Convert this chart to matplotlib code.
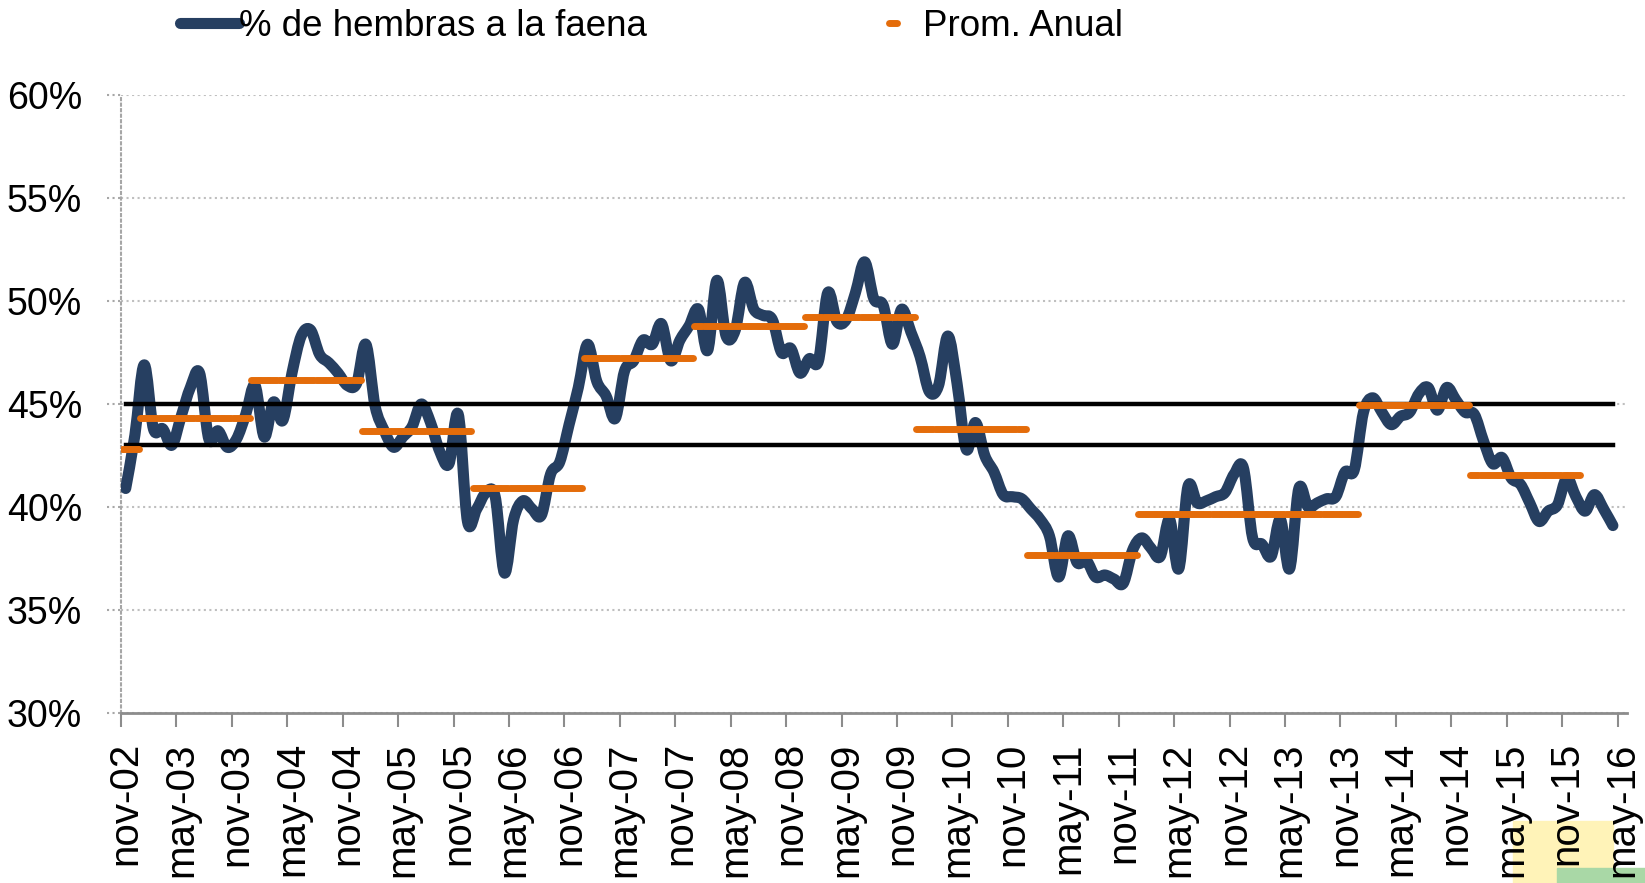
import matplotlib.pyplot as plt
import numpy as np
from matplotlib.markers import MarkerStyle
from matplotlib.patches import Rectangle, PathPatch
from matplotlib.path import Path
from matplotlib.lines import Line2D

# % de hembras en la faena, mensual desde nov-02
hembras = [40.9, 43.5, 46.9, 43.8, 43.8, 43.0, 44.4, 45.8, 46.5, 43.3,
           43.7, 42.9, 43.3, 44.5, 45.9, 43.4, 45.1, 44.2, 46.5, 48.3,
           48.6, 47.4, 47.0, 46.5, 45.9, 46.0, 47.9, 44.9, 43.7, 42.9,
           43.4, 43.9, 45.0, 44.1, 42.7, 42.1, 44.5, 39.3, 39.9, 40.7,
           40.5, 36.8, 39.4, 40.3, 39.9, 39.6, 41.6, 42.2, 44.0, 45.8,
           47.9, 46.1, 45.4, 44.3, 46.6, 47.1, 48.1, 47.9, 48.9, 47.1,
           48.1, 48.8, 49.6, 47.6, 51.0, 48.3, 48.6, 50.9, 49.6, 49.3,
           49.1, 47.5, 47.7, 46.5, 47.2, 47.1, 50.4, 49.0, 49.1, 50.4,
           51.9, 50.1, 49.8, 47.9, 49.6, 48.5, 47.3, 45.6, 45.9, 48.3,
           46.0, 42.8, 44.1, 42.5, 41.7, 40.6, 40.5, 40.4, 39.9, 39.4,
           38.6, 36.6, 38.6, 37.3, 37.4, 36.6, 36.7, 36.5, 36.3, 37.9,
           38.5, 38.0, 37.6, 39.4, 37.0, 41.0, 40.2, 40.3, 40.5, 40.7,
           41.6, 41.9, 38.5, 38.2, 37.6, 39.4, 37.0, 40.9, 40.0, 40.2,
           40.4, 40.5, 41.7, 41.8, 44.6, 45.3, 44.6, 44.0, 44.4, 44.6,
           45.5, 45.8, 44.7, 45.8, 45.2, 44.6, 44.5, 43.2, 42.1, 42.4,
           41.4, 41.1, 40.2, 39.3, 39.8, 40.1, 41.4, 40.5, 39.8, 40.6,
           39.9, 39.1]

anios = list(range(2002, 2016))
prom_anual = [42.8, 44.3, 46.15, 43.67, 40.9, 47.25, 48.8, 49.2, 43.8,
              37.67, 39.66, 39.66, 44.95, 41.55]

ref_alta = 45
ref_baja = 43

xlabels = ["nov-02", "may-03", "nov-03", "may-04", "nov-04", "may-05",
           "nov-05", "may-06", "nov-06", "may-07", "nov-07", "may-08",
           "nov-08", "may-09", "nov-09", "may-10", "nov-10", "may-11",
           "nov-11", "may-12", "nov-12", "may-13", "nov-13", "may-14",
           "nov-14", "may-15", "nov-15", "may-16"]

n_cat = 163  # categorias en el eje: nov-02 .. may-16

mes = np.arange(len(hembras))
prom = np.full(len(hembras), np.nan)
for anio, v in zip(anios, prom_anual):
    ini = max(0, 2 + 12 * (anio - 2003))
    fin = 2 + 12 * (anio - 2002)
    prom[ini:fin] = v

plt.rcParams['font.family'] = ['Liberation Sans', 'DejaVu Sans']

azul = '#263F61'
naranja = '#E46C0A'
gris = '#8C8C8C'
lw_azul = 8


def linea_suave(x, y):
    # curva suavizada tipo Excel (Bezier por los puntos)
    p = np.column_stack([x, y]).astype(float)
    ext = np.vstack([p[0], p, p[-1]])
    verts = [p[0]]
    codes = [Path.MOVETO]
    for i in range(len(p) - 1):
        p0, p1, p2, p3 = ext[i], ext[i + 1], ext[i + 2], ext[i + 3]
        verts += [p1 + (p2 - p0) / 6, p2 - (p3 - p1) / 6, p2]
        codes += [Path.CURVE4] * 3
    return Path(verts, codes)


fig = plt.figure(figsize=(16.45, 8.83), dpi=100)
ax = fig.add_axes([0.0736, 0.1925, 0.9153, 0.6999])

ax.add_patch(PathPatch(linea_suave(mes, hembras), facecolor='none',
                       edgecolor=azul, lw=lw_azul, joinstyle='round',
                       capstyle='round', zorder=3))
ax.plot(mes, np.full(len(mes), ref_alta), color='k', lw=3.2,
        solid_capstyle='projecting', zorder=4)
ax.plot(mes, np.full(len(mes), ref_baja), color='k', lw=3.2,
        solid_capstyle='projecting', zorder=4)
l2, = ax.plot(mes, prom, ls='none', marker=MarkerStyle('_', capstyle='round'),
              ms=6, mew=5, color=naranja, zorder=5, label='Prom. Anual')
l1 = Line2D([], [], color=azul, lw=lw_azul, solid_capstyle='round',
            label='% de hembras a la faena')

ax.set_xlim(-0.5, n_cat - 0.5)
ax.set_ylim(30, 60)

ax.set_yticks(np.arange(30, 61, 5))
ax.set_yticklabels(['%d%%' % v for v in np.arange(30, 61, 5)])
ax.tick_params(axis='y', length=0, pad=28, labelsize=27)
ax.hlines(np.arange(30, 61, 5), -0.0093, 0, transform=ax.get_yaxis_transform(),
          colors='#A6A6A6', linestyles=':', lw=1.5, clip_on=False)
ax.yaxis.grid(True, color='#BFBFBF', ls=':', lw=1.5)
ax.set_axisbelow(True)

ax.set_xticks(np.arange(0, n_cat, 6))
ax.set_xticklabels(xlabels, rotation=90)
ax.set_xticks(np.arange(-0.5, n_cat, 6), minor=True)
ax.tick_params(axis='x', which='major', length=0, pad=21, labelsize=29)
ax.tick_params(axis='x', which='minor', length=10, width=1.5, color=gris,
               direction='out')

ax.spines['top'].set_visible(False)
ax.spines['right'].set_visible(False)
ax.spines['left'].set_linestyle(':')
ax.spines['left'].set_color('#A6A6A6')
ax.spines['left'].set_linewidth(1.5)
ax.spines['bottom'].set_color(gris)
ax.spines['bottom'].set_linewidth(2)

fig.legend([l1, l2], [l1.get_label(), l2.get_label()], loc='center left',
           bbox_to_anchor=(180 / 1645, 1 - 26 / 883), ncol=2, frameon=False,
           fontsize=26.5, handlelength=1.6, handletextpad=0, columnspacing=5.9,
           borderpad=0, borderaxespad=0, numpoints=1)

# manchas de color abajo a la derecha (captura original)
fig.add_artist(Rectangle((1513 / 1645, 0), 100 / 1645, 62 / 883,
                         transform=fig.transFigure, color='#FFF3B8', zorder=-1))
fig.add_artist(Rectangle((1557 / 1645, 0), 88 / 1645, 15 / 883,
                         transform=fig.transFigure, color='#A9D8A6', zorder=-1))

plt.savefig("out.png", dpi=100)
